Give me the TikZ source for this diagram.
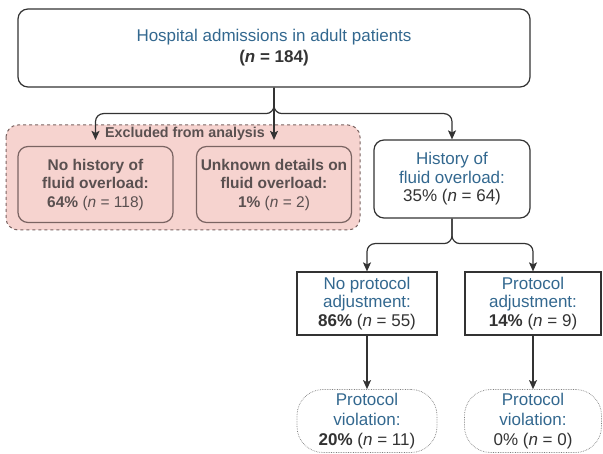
\documentclass[tikz,border=0pt]{standalone}
\usepackage{fontspec}
\setmainfont{Liberation Sans}
\usetikzlibrary{arrows.meta}
\definecolor{bluetxt}{HTML}{33688F}
\definecolor{darktxt}{HTML}{333333}
\definecolor{redfill}{HTML}{F6D3CF}
\definecolor{redline}{HTML}{7A6462}
\definecolor{redtxt}{HTML}{5A5050}
\definecolor{lineclr}{HTML}{333333}
\tikzset{
  boxbase/.style={draw=lineclr, line width=1.2pt, align=center, inner sep=0pt,
    font=\fontsize{17}{18.5}\selectfont, text=darktxt},
  topbox/.style={boxbase, rounded corners=10pt, minimum width=512pt, minimum height=78pt,
    font=\fontsize{17}{21}\selectfont},
  exbox/.style={boxbase, draw=redline, fill=redfill, rounded corners=10pt,
    minimum width=155pt, minimum height=76pt, text=redtxt,
    font=\fontsize{15.5}{18.5}\selectfont},
  histbox/.style={boxbase, rounded corners=10pt, minimum width=156pt, minimum height=78pt},
  sqbox/.style={boxbase, minimum height=63pt},
  violbox/.style={boxbase, draw=gray, line width=0.7pt, densely dotted, rounded corners=26pt,
    minimum height=63pt, font=\fontsize{17}{20}\selectfont},
  arr/.style={draw=lineclr, line width=1.2pt, rounded corners=8pt,
    -{Stealth[length=9pt,width=8pt,inset=2pt]}},
  grp/.style={draw=redline, fill=redfill, dashed, line width=1pt, rounded corners=12pt}
}
\begin{document}
\begin{tikzpicture}[x=1pt,y=-1pt]
\useasboundingbox (0,0) rectangle (603,454);
% excluded group
\draw[grp] (6,125) rectangle (360,230);
\node[text=redtxt, font=\fontsize{14.3}{16}\selectfont\bfseries] (exlabel) at (185,134) {Excluded from analysis};
% nodes
\node[topbox] (top) at (274,48) {\textcolor{bluetxt}{Hospital admissions in adult patients}\\\textbf{(\textit{n}~=~184)}};
\node[exbox] (b1) at (95.5,184.5) {\textbf{No history of}\\\textbf{fluid overload:}\\\textbf{64\%} (\textit{n}~=~118)};
\node[exbox] (b2) at (274,184.5) {\textbf{Unknown details on}\\\textbf{fluid overload:}\\\textbf{1\%} (\textit{n}~=~2)};
\node[histbox] (hist) at (452,179) {\textcolor{bluetxt}{History of}\\\textcolor{bluetxt}{fluid overload:}\\35\% (\textit{n}~=~64)};
\node[sqbox, minimum width=140pt] (np) at (367,303.5) {\textcolor{bluetxt}{No protocol}\\\textcolor{bluetxt}{adjustment:}\\\textbf{86\%} (\textit{n}~=~55)};
\node[sqbox, minimum width=136pt] (pa) at (533,303.5) {\textcolor{bluetxt}{Protocol}\\\textcolor{bluetxt}{adjustment:}\\\textbf{14\%} (\textit{n}~=~9)};
\node[violbox, minimum width=140pt] (v1) at (367,421) {\textcolor{bluetxt}{Protocol}\\\textcolor{bluetxt}{violation:}\\\textbf{20\%} (\textit{n}~=~11)};
\node[violbox, minimum width=137pt] (v2) at (533,421) {\textcolor{bluetxt}{Protocol}\\\textcolor{bluetxt}{violation:}\\0\% (\textit{n}~=~0)};
% connectors
\draw[arr, shorten >=6pt] (top.south) -- ++(0,26) -| (b1.north);
\draw[arr, shorten >=6pt] (top.south) -- (b2.north);
\draw[arr] (top.south) -- ++(0,26) -| (hist.north);
\draw[arr] (hist.south) -- ++(0,25) -| (np.north);
\draw[arr] (hist.south) -- ++(0,25) -| (pa.north);
\draw[arr] (np.south) -- (v1.north);
\draw[arr] (pa.south) -- (v2.north);
\end{tikzpicture}
\end{document}
